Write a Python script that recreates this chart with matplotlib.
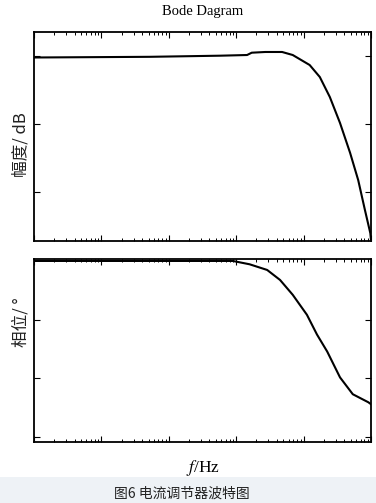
import numpy as np
import matplotlib
matplotlib.use("Agg")
from matplotlib import pyplot as plt
from matplotlib.ticker import LogLocator, NullFormatter

plt.rcParams['font.family'] = ['Noto Sans CJK SC', 'DejaVu Sans']
plt.rcParams['mathtext.fontset'] = 'stix'

# magnitude curve (frequency in Hz, magnitude in dB)
mag_freq = [1.0, 52.0, 575.0, 1450.0, 1700.0, 2700.0, 4800.0, 6900.0,
            12300.0, 17400.0, 24500.0, 34700.0, 49000.0, 64600.0, 81300.0,
            97700.0, 100000.0]
mag_db = [-0.44, -0.24, 0.09, 0.29, 0.97, 1.18, 1.18, 0.29,
          -2.65, -6.18, -12.06, -19.7, -28.5, -36.5, -45.3,
          -52.1, -54.1]

# phase curve (frequency in Hz, phase in degrees)
ph_freq = [1.0, 100.0, 890.0, 1580.0, 2880.0, 4470.0, 6900.0, 11200.0,
           15800.0, 22400.0, 34700.0, 53700.0, 91200.0, 100000.0]
ph_deg = [0.0, 0.0, 0.0, -1.7, -4.6, -9.7, -17.3, -27.5,
          -37.6, -46.3, -59.5, -68.1, -72.2, -73.2]

mag_ticks = [0, -20, -40]
ph_ticks = [-30, -60, -90]

fig = plt.figure(figsize=(3.76, 5.03), dpi=100)
fig.patch.set_facecolor('white')

# light band behind the caption
band = fig.add_axes([0, 0, 1, 0.052])
band.set_facecolor('#eef2f6')
band.set_xticks([])
band.set_yticks([])
for s in band.spines.values():
    s.set_visible(False)

ax1 = fig.add_axes([0.0904, 0.5209, 0.8963, 0.4155])
ax2 = fig.add_axes([0.0904, 0.1213, 0.8963, 0.3638])

ax1.semilogx(mag_freq, mag_db, color='black', lw=1.5)
ax2.semilogx(ph_freq, ph_deg, color='black', lw=1.5)

ax1.set_ylim(-54.4, 7.06)
ax2.set_ylim(-92.5, 1.0)
ax1.set_yticks(mag_ticks)
ax2.set_yticks(ph_ticks)

for ax in (ax1, ax2):
    ax.set_xlim(1, 1e5)
    ax.xaxis.set_major_locator(LogLocator(base=10, numticks=10))
    ax.xaxis.set_minor_locator(LogLocator(base=10, subs=np.arange(2, 10), numticks=10))
    ax.xaxis.set_minor_formatter(NullFormatter())
    ax.tick_params(which='both', direction='in', top=True, right=True,
                   labelbottom=False, labelleft=False, color='black')
    ax.tick_params(which='major', length=4, width=0.8)
    ax.tick_params(which='minor', length=2.5, width=0.7)
    for s in ax.spines.values():
        s.set_linewidth(1.3)
        s.set_color('black')

fig.text(0.54, 0.978, 'Bode Dagram', ha='center', va='center',
         fontsize=10.5, family='Liberation Serif')
fig.text(0.056, 0.712, '幅度/ dB', ha='center', va='center',
         rotation=90, fontsize=12, color='#222222')
fig.text(0.056, 0.36, '相位/ °', ha='center', va='center',
         rotation=90, fontsize=12, color='#222222')
fig.text(0.54, 0.07, r'$f$/Hz', ha='center', va='center',
         fontsize=12.5, family='Liberation Serif')
fig.text(0.485, 0.018, '图6 电流调节器波特图', ha='center', va='center',
         fontsize=10, color='#222222')

fig.savefig('out.png', dpi=100)
